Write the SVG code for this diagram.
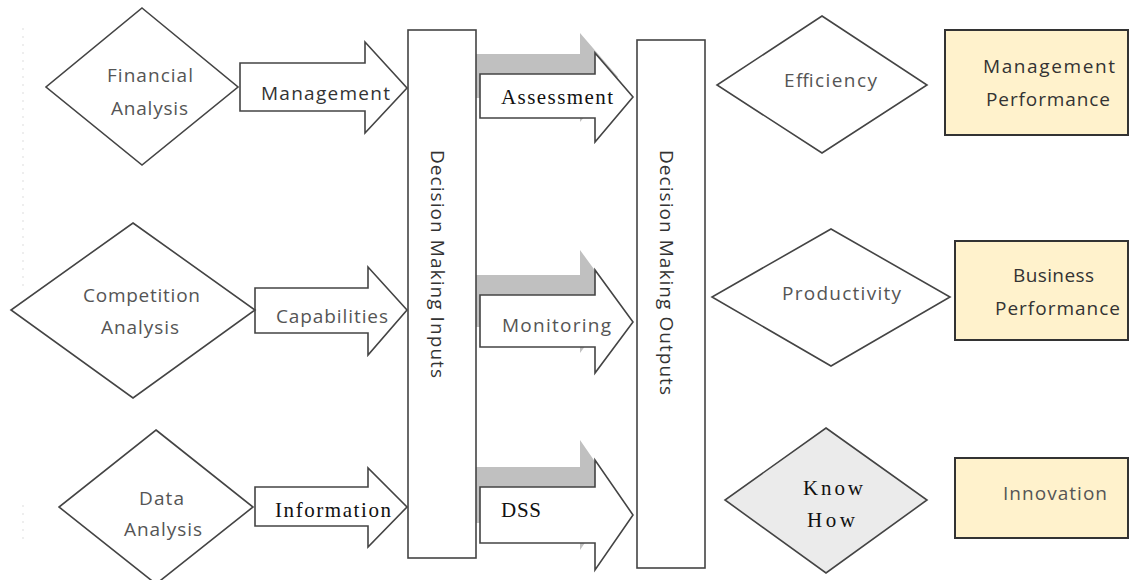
<svg xmlns="http://www.w3.org/2000/svg" width="1132" height="580" viewBox="0 0 1132 580">
<style>
.shape{fill:#fff;stroke:#444;stroke-width:1.6;stroke-linejoin:miter}
.shadow{fill:#c0c0c0;stroke:none}
.box{fill:#fff2cc;stroke:#333;stroke-width:2}
.gray{fill:#ebebeb;stroke:#444;stroke-width:1.6}
.sans{font-family:"Open Sans","Liberation Sans",sans-serif;font-size:19px;fill:#555}
.dark{fill:#333}
.serif{font-family:"Liberation Serif",serif;font-size:21px;fill:#111}
</style>
<line x1="23" y1="28" x2="23" y2="290" stroke="#ddd" stroke-width="1" stroke-dasharray="2,6"/>
<line x1="23" y1="505" x2="23" y2="545" stroke="#ddd" stroke-width="1" stroke-dasharray="2,6"/>
<g id="connectors">
  <g id="arrow-management">
    <polygon class="shape" points="240,63 365,63 365,42 407,88 365,133 365,111 240,111"/>
    <text class="sans dark" x="261" y="100" textLength="129" lengthAdjust="spacing">Management</text>
  </g>
  <g id="arrow-capabilities">
    <polygon class="shape" points="255,288 368,288 368,267 407,310 368,355 368,333 255,333"/>
    <text class="sans" x="276" y="323" textLength="112" lengthAdjust="spacing">Capabilities</text>
  </g>
  <g id="arrow-information">
    <polygon class="shape" points="255,487 368,487 368,468 407,507 368,547 368,526 255,526"/>
    <text class="serif" x="275" y="517" textLength="116" lengthAdjust="spacing">Information</text>
  </g>
  <polygon class="shadow" transform="translate(-15,-20)" points="480,74 595,74 595,53 633,97 595,142 595,118 480,118"/>
  <polygon class="shadow" transform="translate(-15,-20)" points="480,295 595,295 595,270 633,322 595,373 595,347 480,347"/>
  <polygon class="shadow" transform="translate(-15,-20)" points="480,487 595,487 595,460 633,515 595,570 595,543 480,543"/>
</g>
<g id="inputs">
  <rect class="shape" x="408" y="30" width="68" height="528"/>
  <text class="sans dark" transform="translate(431,150) rotate(90)" x="0" y="0" textLength="228" lengthAdjust="spacing">Decision Making Inputs</text>
</g>
<g id="connectors-mid">
  <g id="arrow-assessment">
    <polygon class="shape" points="480,74 595,74 595,53 633,97 595,142 595,118 480,118"/>
    <text class="serif" x="501" y="104" textLength="112" lengthAdjust="spacing">Assessment</text>
  </g>
  <g id="arrow-monitoring">
    <polygon class="shape" points="480,295 595,295 595,270 633,322 595,373 595,347 480,347"/>
    <text class="sans" x="502" y="332" textLength="109" lengthAdjust="spacing">Monitoring</text>
  </g>
  <g id="arrow-dss">
    <polygon class="shape" points="480,487 595,487 595,460 633,515 595,570 595,543 480,543"/>
    <text class="serif" x="501" y="517" textLength="40" lengthAdjust="spacing">DSS</text>
  </g>
</g>
<g id="outputs">
  <rect class="shape" x="637" y="40" width="68" height="528"/>
  <text class="sans dark" transform="translate(660,150) rotate(90)" x="0" y="0" textLength="245" lengthAdjust="spacing">Decision Making Outputs</text>
</g>
<g id="financial-analysis">
  <polygon class="shape" points="142,8 238,87 142,165 46,87"/>
  <text class="sans" x="107" y="82" textLength="86" lengthAdjust="spacing">Financial</text>
  <text class="sans" x="111" y="115" textLength="77" lengthAdjust="spacing">Analysis</text>
</g>
<g id="competition-analysis">
  <polygon class="shape" points="133,223 255,310 133,398 11,310"/>
  <text class="sans" x="83" y="302" textLength="117" lengthAdjust="spacing">Competition</text>
  <text class="sans" x="101" y="334" textLength="78" lengthAdjust="spacing">Analysis</text>
</g>
<g id="data-analysis">
  <polygon class="shape" points="156,430 253,507 156,584 59,507"/>
  <text class="sans" x="139" y="505" textLength="45" lengthAdjust="spacing">Data</text>
  <text class="sans" x="124" y="536" textLength="78" lengthAdjust="spacing">Analysis</text>
</g>
<g id="efficiency">
  <polygon class="shape" points="822,16 927,85 822,153 717,85"/>
  <text class="sans" x="784" y="87" textLength="93" lengthAdjust="spacing">Efficiency</text>
</g>
<g id="productivity">
  <polygon class="shape" points="831,229 950,297 831,366 712,297"/>
  <text class="sans" x="782" y="300" textLength="119" lengthAdjust="spacing">Productivity</text>
</g>
<g id="know-how">
  <polygon class="gray" points="826,428 927,500 826,573 725,500"/>
  <text class="serif" x="803" y="495" textLength="60" lengthAdjust="spacing">Know</text>
  <text class="serif" x="807" y="527" textLength="48" lengthAdjust="spacing">How</text>
</g>
<g id="management-performance">
  <rect class="box" x="945" y="30" width="183" height="105"/>
  <text class="sans dark" x="983" y="73" textLength="132" lengthAdjust="spacing">Management</text>
  <text class="sans dark" x="986" y="106" textLength="124" lengthAdjust="spacing">Performance</text>
</g>
<g id="business-performance">
  <rect class="box" x="955" y="241" width="173" height="99"/>
  <text class="sans dark" x="1013" y="282" textLength="81" lengthAdjust="spacing">Business</text>
  <text class="sans dark" x="995" y="315" textLength="125" lengthAdjust="spacing">Performance</text>
</g>
<g id="innovation">
  <rect class="box" x="955" y="458" width="173" height="80"/>
  <text class="sans" x="1003" y="500" textLength="104" lengthAdjust="spacing">Innovation</text>
</g>
</svg>
